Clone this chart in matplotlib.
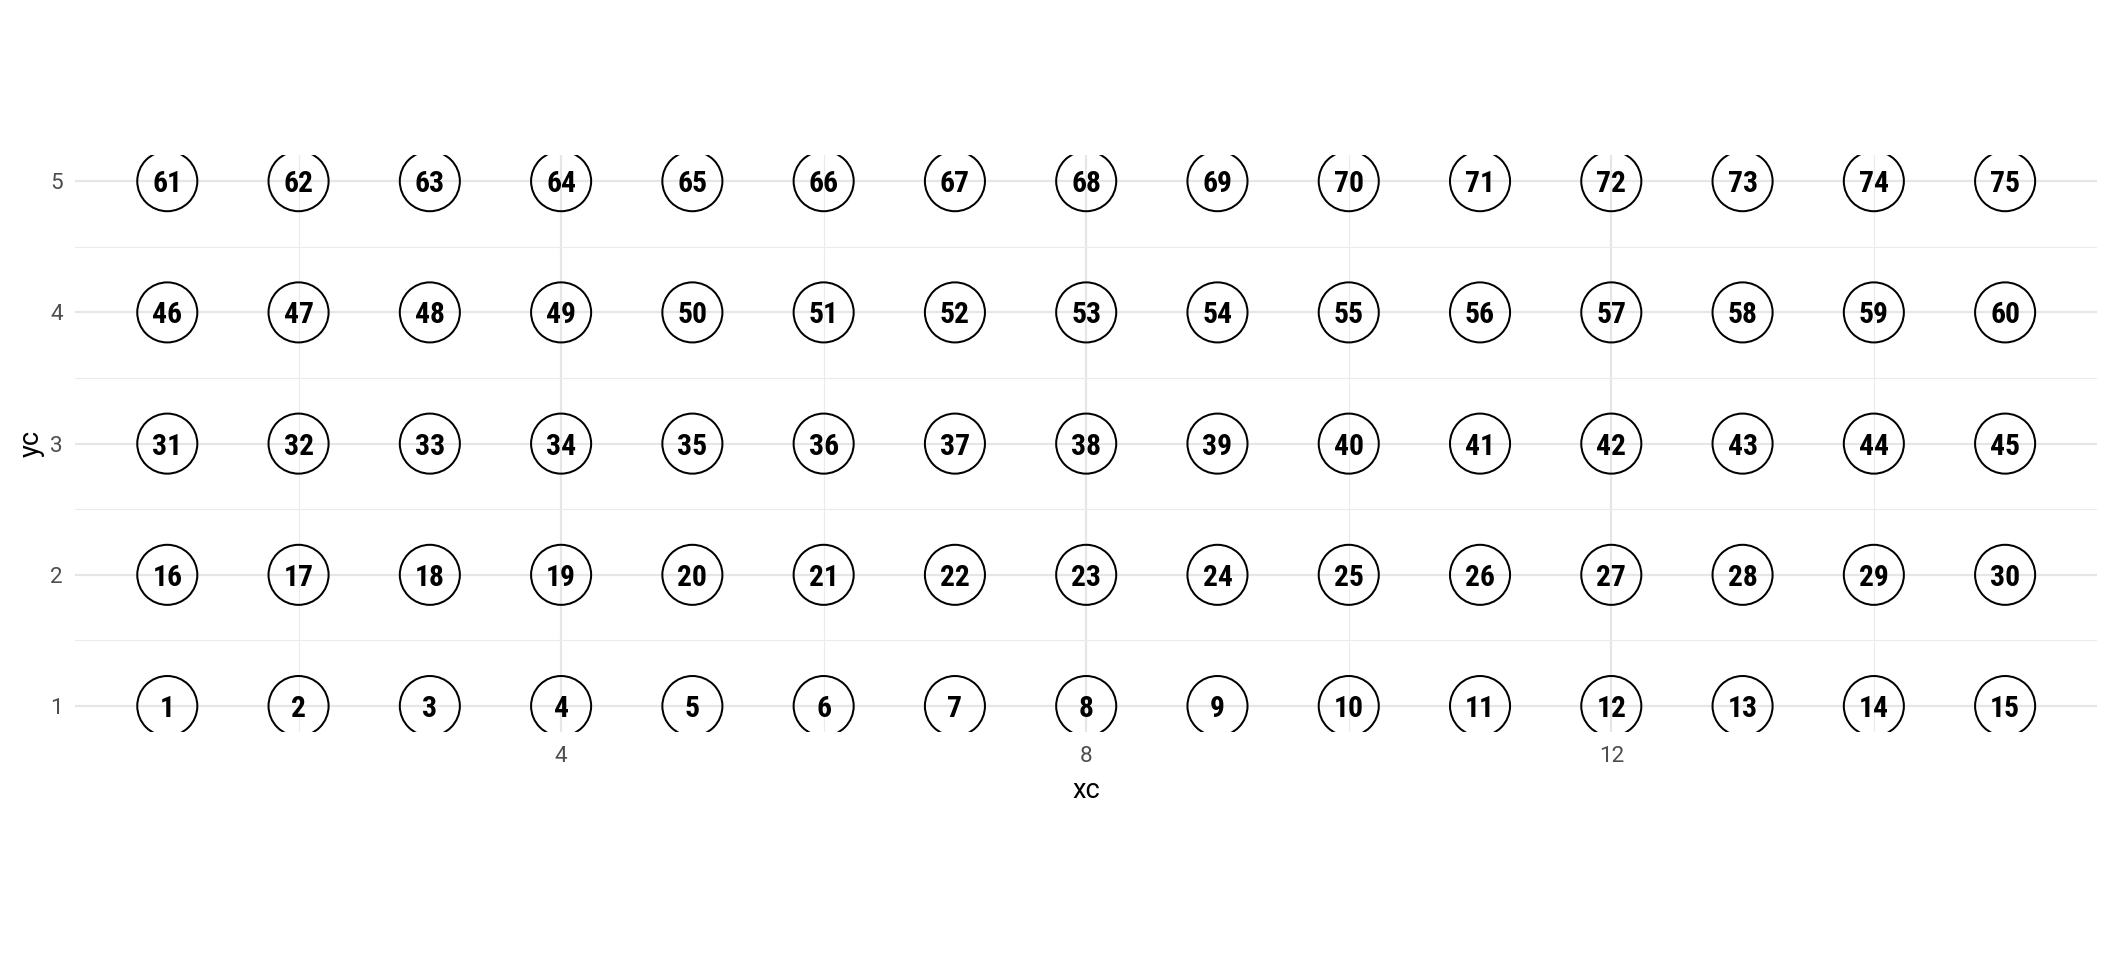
import matplotlib
matplotlib.use("Agg")
import matplotlib.pyplot as plt

# grid positions and the number shown at each position (rows bottom to top)
xc_values = [1, 2, 3, 4, 5, 6, 7, 8, 9, 10, 11, 12, 13, 14, 15]
yc_values = [1, 2, 3, 4, 5]
cell_labels = [
    [1, 2, 3, 4, 5, 6, 7, 8, 9, 10, 11, 12, 13, 14, 15],
    [16, 17, 18, 19, 20, 21, 22, 23, 24, 25, 26, 27, 28, 29, 30],
    [31, 32, 33, 34, 35, 36, 37, 38, 39, 40, 41, 42, 43, 44, 45],
    [46, 47, 48, 49, 50, 51, 52, 53, 54, 55, 56, 57, 58, 59, 60],
    [61, 62, 63, 64, 65, 66, 67, 68, 69, 70, 71, 72, 73, 74, 75],
]
x_major = [4, 8, 12]
x_minor = [2, 6, 10, 14]
y_major = [1, 2, 3, 4, 5]
y_minor = [1.5, 2.5, 3.5, 4.5]

plt.rcParams["font.family"] = ["Roboto", "DejaVu Sans"]

fig = plt.figure(figsize=(21.12, 9.6), dpi=100)
ax = fig.add_axes([0.0357, 0.2372, 0.9572, 0.6014])

xs, ys, labs = [], [], []
for i, y in enumerate(yc_values):
    for j, x in enumerate(xc_values):
        xs.append(x)
        ys.append(y)
        labs.append(cell_labels[i][j])

ax.scatter(xs, ys, s=1870, facecolors="none", edgecolors="black",
           linewidths=1.45, zorder=3)
for x, y, lab in zip(xs, ys, labs):
    ax.text(x, y, str(lab), ha="center", va="center_baseline", fontsize=21.3,
            fontweight="bold", fontstretch="condensed",
            family=["Roboto Condensed", "Liberation Sans Narrow", "DejaVu Sans"],
            color="black", zorder=4)

ax.set_xlim(0.3, 15.7)
ax.set_ylim(0.8, 5.2)
ax.set_xticks(x_major)
ax.set_xticks(x_minor, minor=True)
ax.set_yticks(y_major)
ax.set_yticks(y_minor, minor=True)
ax.grid(which="major", color="#E6E6E6", linewidth=1.6, zorder=0)
ax.grid(which="minor", color="#EBEBEB", linewidth=0.8, zorder=0)
ax.set_axisbelow(True)
for sp in ax.spines.values():
    sp.set_visible(False)
ax.tick_params(which="both", length=0, labelsize=16.2, labelcolor="#4D4D4D")
ax.tick_params(axis="x", pad=10)
ax.tick_params(axis="y", pad=9)

ax.set_xlabel("xc", fontsize=19.5, color="black", va="center")
ax.set_ylabel("yc", fontsize=19.5, color="black", va="center")
ax.xaxis.set_label_coords(0.5, -0.1)
ax.yaxis.set_label_coords(-0.022, 0.5)

fig.savefig("out.png", dpi=100, facecolor="white")
